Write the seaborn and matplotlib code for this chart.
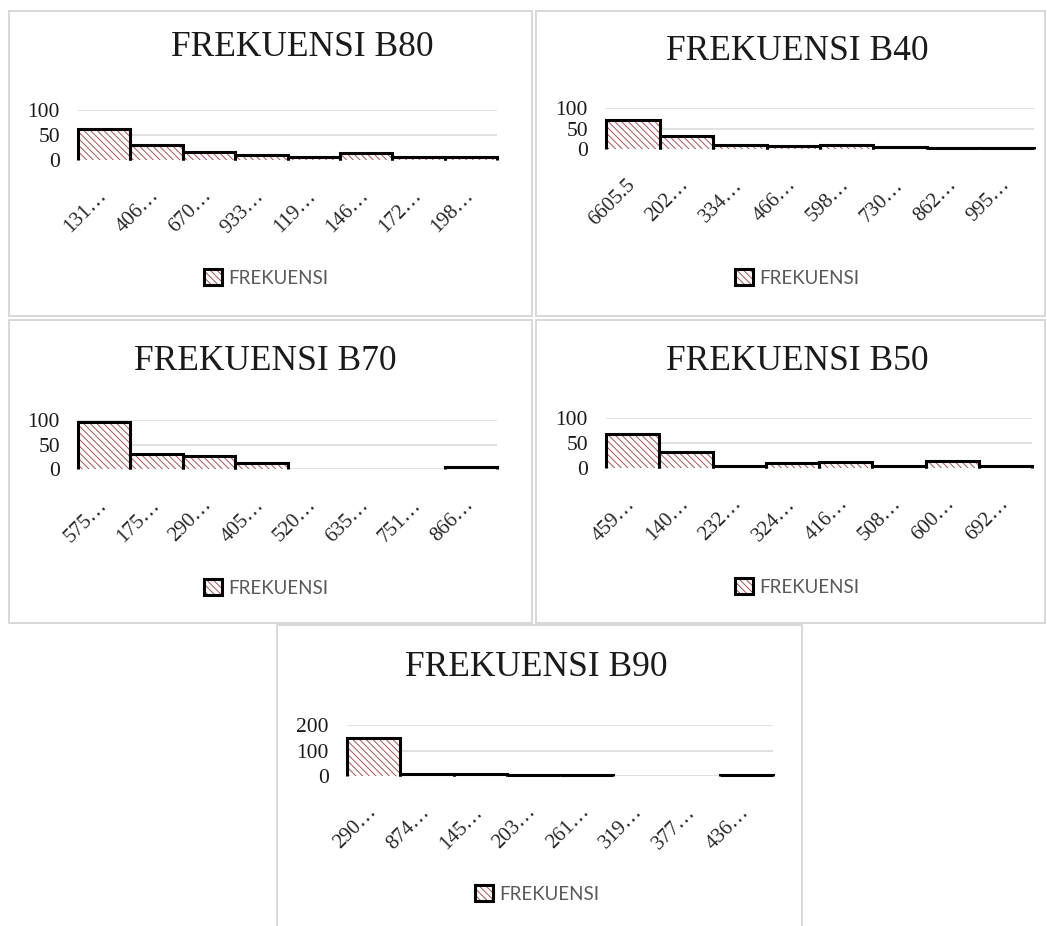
import matplotlib
matplotlib.use("Agg")
import matplotlib.pyplot as plt
from matplotlib.patches import Patch, Rectangle
from matplotlib.legend_handler import HandlerTuple
import seaborn as sns

# ---- data -------------------------------------------------------------
b80_bins = ["131…", "406…", "670…", "933…", "119…", "146…", "172…", "198…"]
b80_freq = [63, 31, 16, 11, 6, 15, 7, 7]

b40_bins = ["6605.5", "202…", "334…", "466…", "598…", "730…", "862…", "995…"]
b40_freq = [70, 31, 9, 8, 9, 6, 2, 2]

b70_bins = ["575…", "175…", "290…", "405…", "520…", "635…", "751…", "866…"]
b70_freq = [95, 30, 27, 12, 0, 0, 0, 4]

b50_bins = ["459…", "140…", "232…", "324…", "416…", "508…", "600…", "692…"]
b50_freq = [69, 32, 5, 10, 13, 5, 14, 5]

b90_bins = ["290…", "874…", "145…", "203…", "261…", "319…", "377…", "436…"]
b90_freq = [150, 9, 9, 4, 4, 0, 0, 4]

titles = ["FREKUENSI B80", "FREKUENSI B40", "FREKUENSI B70",
          "FREKUENSI B50", "FREKUENSI B90"]
legend_label = "FREKUENSI"

# ---- style ------------------------------------------------------------
sns.set_style("white")
plt.rcParams["font.family"] = ["Liberation Serif", "DejaVu Serif"]
plt.rcParams["hatch.linewidth"] = 0.7

W, H = 1047, 926
HATCH = "\\\\\\\\\\"
HATCH_COL = "#A9545A"
EDGE_W = 2.2
GRID_COL = "#D9D9D9"
BORDER_COL = "#D6D6D6"

fig = plt.figure(figsize=(W / 100, H / 100), dpi=100)


def fig_rect(x0, y0, x1, y1):
    return [x0 / W, 1 - y1 / H, (x1 - x0) / W, (y1 - y0) / H]


# chart frames (pixel boxes)
frames = [
    (9, 11, 532, 316),
    (536, 11, 1045, 316),
    (9, 320, 532, 623),
    (536, 320, 1045, 623),
    (277, 625, 802, 930),
]
for x0, y0, x1, y1 in frames:
    r = fig_rect(x0, y0, x1, y1)
    fig.add_artist(Rectangle((r[0], r[1]), r[2], r[3], transform=fig.transFigure,
                             fill=False, ec=BORDER_COL, lw=1.3))

panels = [
    dict(bins=b80_bins, freq=b80_freq, title=titles[0], ymax=100, step=50,
         plot=(78, 110, 497, 160), tpos=(302, 48), lpos=(266, 278)),
    dict(bins=b40_bins, freq=b40_freq, title=titles[1], ymax=100, step=50,
         plot=(606, 108, 1034, 149), tpos=(797, 52), lpos=(797, 278)),
    dict(bins=b70_bins, freq=b70_freq, title=titles[2], ymax=100, step=50,
         plot=(78, 420, 497, 469), tpos=(265, 361), lpos=(266, 588)),
    dict(bins=b50_bins, freq=b50_freq, title=titles[3], ymax=100, step=50,
         plot=(606, 418, 1032, 468), tpos=(797, 361), lpos=(797, 587)),
    dict(bins=b90_bins, freq=b90_freq, title=titles[4], ymax=200, step=100,
         plot=(347, 725, 773, 776), tpos=(536, 668), lpos=(537, 894)),
]

for p in panels:
    ax = fig.add_axes(fig_rect(*p["plot"]))
    sns.barplot(x=p["bins"], y=p["freq"], ax=ax, color="white", saturation=1,
                width=1.0, edgecolor=HATCH_COL, linewidth=0, hatch=HATCH,
                errorbar=None)
    # black outline on the sides and top of every non-empty bar
    for bar in ax.patches:
        h = bar.get_height()
        if h <= 0:
            continue
        xl = bar.get_x()
        xr = xl + bar.get_width()
        ax.plot([xl, xl, xr, xr], [0, h, h, 0], color="black", lw=EDGE_W,
                solid_joinstyle="miter", solid_capstyle="butt", clip_on=False,
                zorder=4)
    n = len(p["bins"])
    ax.set_xlim(-0.5, n - 0.5)
    ax.set_ylim(0, p["ymax"])
    ax.set_yticks(range(0, p["ymax"] + 1, p["step"]))
    ax.yaxis.grid(True, color=GRID_COL, lw=1.1)
    ax.set_axisbelow(True)
    sns.despine(ax=ax, left=True, bottom=True)
    ax.tick_params(axis="y", length=0, pad=13, labelsize=15.5, labelcolor="#1a1a1a")
    ax.tick_params(axis="x", length=0, pad=24, labelsize=15, labelcolor="#262626")
    for lab in ax.get_xticklabels():
        lab.set_rotation(45)
        lab.set_rotation_mode("anchor")
        lab.set_ha("right")
        lab.set_va("center")
    ax.set_xlabel("")
    ax.set_ylabel("")

    tx, ty = p["tpos"]
    fig.text(tx / W, 1 - ty / H, p["title"], ha="center", va="center",
             fontsize=25.5, color="#1a1a1a")

    hatch_sq = Patch(facecolor="white", edgecolor=HATCH_COL, hatch=HATCH, lw=0)
    frame_sq = Patch(facecolor="none", edgecolor="black", lw=EDGE_W)
    lx, ly = p["lpos"]
    fig.legend(handles=[(hatch_sq, frame_sq)], labels=[legend_label],
               loc="center", bbox_to_anchor=(lx / W, 1 - ly / H),
               bbox_transform=fig.transFigure, frameon=False,
               handler_map={tuple: HandlerTuple(ndivide=1)},
               handlelength=0.95, handleheight=0.95, handletextpad=0.35,
               prop={"family": ["Lato", "DejaVu Sans"], "size": 13.5},
               labelcolor="#595959", borderpad=0, borderaxespad=0)

fig.savefig("out.png", dpi=100, facecolor="white")
